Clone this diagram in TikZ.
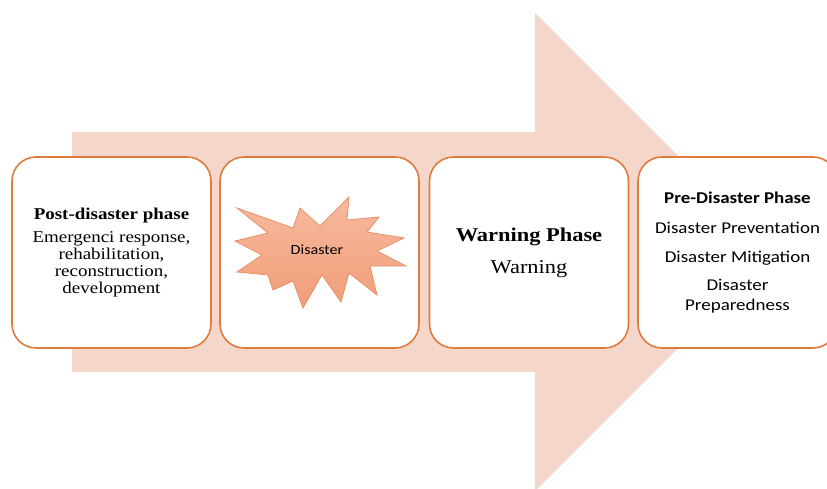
\documentclass[tikz,border=0pt]{standalone}
\usepackage{fontspec}
\setmainfont{Liberation Serif}[FakeStretch=1.15]
\newfontfamily\calfont{Carlito}[FakeStretch=1.15]
\definecolor{arrowpink}{RGB}{245,214,202}
\definecolor{boxline}{RGB}{222,124,60}
\definecolor{burstline}{RGB}{232,146,106}
\definecolor{bursttop}{RGB}{247,186,158}
\definecolor{burstbot}{RGB}{241,157,120}
\tikzset{
  phasebox/.style={draw=boxline, line width=1.6pt, fill=white, rounded corners=24pt,
    minimum width=199pt, minimum height=191pt, align=center, inner sep=0pt}
}

\begin{document}
\begin{tikzpicture}[x=1pt,y=-1pt]
\useasboundingbox (0,0) rectangle (827,489);
\clip (0,0) rectangle (827,489);
% big arrow in the back
\fill[arrowpink] (72,132) -- (535,132) -- (535,13) -- (774,252) -- (535,491) -- (535,372) -- (72,372) -- cycle;
% the four phases
\node[phasebox, font=\fontsize{16.5}{17}\selectfont] (post) at (111.5,252.5){%
  \textbf{Post-disaster phase}\\[6pt]
  Emergenci response,\\ rehabilitation,\\ reconstruction,\\ development};
\node[phasebox] (dis) at (319.5,252.5){};
\node[phasebox, font=\fontsize{19.5}{32}\selectfont] (warn) at (529,252.5){%
  \textbf{Warning Phase}\\ Warning};
\node[phasebox, font=\calfont\fontsize{16.5}{20}\selectfont] (pre) at (737.5,252.5){%
  \textbf{Pre-Disaster Phase}\\[10pt]
  Disaster Preventation\\[9pt] Disaster Mitigation\\[8pt] Disaster\\ Preparedness};
% explosion
\draw[burstline, line width=0.8pt, top color=bursttop, bottom color=burstbot]
  (237,208) -- (293,228) -- (300,208) -- (320,226) -- (349,197) -- (347,220)
  -- (379,217) -- (367,232) -- (404,238) -- (377,251) -- (406,266) -- (370,266)
  -- (377,295) -- (349,273) -- (341,302) -- (322,275) -- (303,308) -- (293,281)
  -- (273,290) -- (268,275) -- (237,272) -- (262,255) -- (235,241) -- (268,233) -- cycle;
\node[font=\calfont\fontsize{14}{16}\selectfont] (burst) at (317,250){Disaster};
\end{tikzpicture}
\end{document}
